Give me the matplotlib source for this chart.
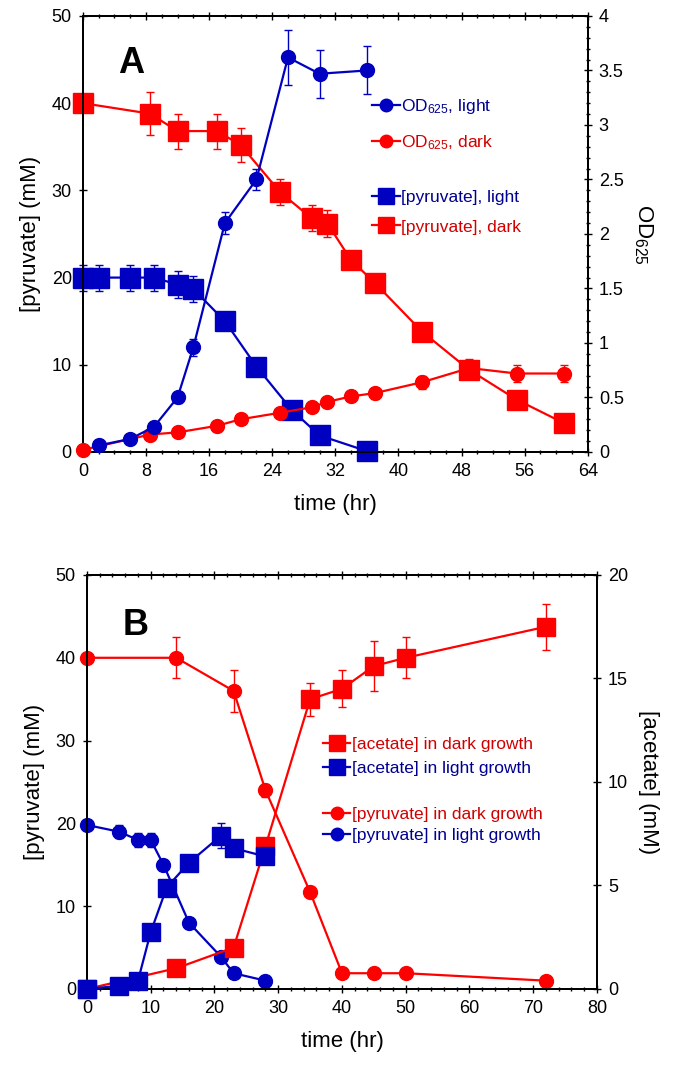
import matplotlib
matplotlib.use("Agg")
import matplotlib.pyplot as plt
from matplotlib.lines import Line2D
from matplotlib.ticker import MultipleLocator

plt.rcParams['font.family'] = ['Liberation Sans', 'DejaVu Sans']
plt.rcParams['mathtext.fontset'] = 'custom'
plt.rcParams['mathtext.rm'] = 'Liberation Sans'
plt.rcParams['mathtext.it'] = 'Liberation Sans:italic'

RED = '#ff0000'
BLUE = '#0000c0'
RED_TXT = '#d00000'
BLUE_TXT = '#000090'

# ---- panel A data ----
a_t_dark = [0, 8.5, 12, 17, 20, 25, 29, 31, 34, 37, 43, 49, 55, 61]
a_pyr_dark = [40, 38.8, 36.8, 36.8, 35.2, 29.8, 26.8, 26.2, 22.0, 19.4, 13.8, 9.4, 6.0, 3.3]
a_pyr_dark_err = [0, 2.5, 2.0, 2.0, 2.0, 1.5, 1.5, 1.5, 1.0, 1.0, 0.8, 0.8, 0.8, 0]
a_od_dark = [0.02, 0.16, 0.18, 0.24, 0.30, 0.36, 0.41, 0.46, 0.51, 0.54, 0.64, 0.77, 0.72, 0.72]
a_od_dark_err = [0, 0.02, 0.02, 0.02, 0.03, 0.03, 0.04, 0.04, 0.04, 0.05, 0.06, 0.08, 0.08, 0.08]

a_t_pyr_light = [0, 2, 6, 9, 12, 14, 18, 22, 26.5, 30, 36]
a_pyr_light = [20, 20, 20, 20, 19.2, 18.7, 15.0, 9.8, 4.8, 1.9, 0.1]
a_pyr_light_err = [1.5, 1.5, 1.5, 1.5, 1.5, 1.5, 0.8, 0.5, 0.4, 0.3, 0.3]

a_t_od_light = [2, 6, 9, 12, 14, 18, 22, 26, 30, 36]
a_od_light = [0.06, 0.12, 0.23, 0.50, 0.96, 2.10, 2.50, 3.62, 3.47, 3.50]
a_od_light_err = [0.02, 0.02, 0.03, 0.05, 0.08, 0.1, 0.1, 0.25, 0.22, 0.22]

# ---- panel B data ----
b_t_dark = [0, 14, 23, 28, 35, 40, 45, 50, 72]
b_pyr_dark = [40, 40, 36, 24, 11.7, 1.9, 1.9, 1.9, 1.0]
b_pyr_dark_err = [0, 2.5, 2.5, 0.8, 0.5, 0.3, 0.3, 0.3, 0.3]
b_ace_dark = [0, 1.0, 2.0, 6.9, 14.0, 14.5, 15.6, 16.0, 17.5]
b_ace_dark_err = [0, 0.1, 0.2, 0.3, 0.8, 0.9, 1.2, 1.0, 1.1]

b_t_light = [0, 5, 8, 10, 12.5, 16, 21, 23, 28]
b_ace_light = [0, 0.15, 0.4, 2.75, 4.9, 6.1, 7.4, 6.8, 6.4]
b_ace_light_err = [0, 0.1, 0.1, 0.2, 0.3, 0.3, 0.6, 0.3, 0.3]
b_t_pyr_light = [0, 5, 8, 10, 12, 16, 21, 23, 28]
b_pyr_light = [19.8, 19.0, 18.0, 18.0, 15.0, 8.0, 3.9, 1.9, 1.0]
b_pyr_light_err = [0, 0.8, 0.8, 0.8, 0.6, 0.5, 0.4, 0.3, 0.2]


def series(ax, x, y, err, color, marker, ms):
    ax.errorbar(x, y, yerr=err, color=color, marker=marker, ms=ms, lw=1.6,
                elinewidth=1.0, capsize=3, capthick=1.0, mec=color, mfc=color,
                clip_on=False, zorder=3)


def style(ax, ax2):
    for a in (ax, ax2):
        a.tick_params(which='both', direction='inout', labelsize=13, pad=5)
        a.tick_params(which='major', length=6, width=1)
        a.tick_params(which='minor', length=3, width=1)
        for s in a.spines.values():
            s.set_linewidth(1.4)
    ax.tick_params(axis='x', which='both', top=True)
    ax.tick_params(axis='y', which='both', right=False)


fig = plt.figure(figsize=(6.85, 10.65), dpi=100)

# ---------------- panel A ----------------
axA = fig.add_axes([0.121, 0.5756, 0.737, 0.4094])
axA2 = axA.twinx()
series(axA, a_t_dark, a_pyr_dark, a_pyr_dark_err, RED, 's', 14)
series(axA, a_t_pyr_light, a_pyr_light, a_pyr_light_err, BLUE, 's', 14)
series(axA2, a_t_dark, a_od_dark, a_od_dark_err, RED, 'o', 10)
series(axA2, a_t_od_light, a_od_light, a_od_light_err, BLUE, 'o', 10)
axA.set_xlim(0, 64)
axA.set_ylim(0, 50)
axA2.set_ylim(0, 4)
axA.xaxis.set_major_locator(MultipleLocator(8))
axA.xaxis.set_minor_locator(MultipleLocator(2))
axA.yaxis.set_major_locator(MultipleLocator(10))
axA2.set_yticks([0, 0.5, 1, 1.5, 2, 2.5, 3, 3.5, 4])
axA2.set_yticklabels(['0', '0.5', '1', '1.5', '2', '2.5', '3', '3.5', '4'])
axA2.yaxis.set_minor_locator(MultipleLocator(0.1))
style(axA, axA2)
axA.set_xlabel('time (hr)', fontsize=16, labelpad=10)
axA.set_ylabel('[pyruvate] (mM)', fontsize=16, labelpad=8)
axA2.set_ylabel(r'OD$_{625}$', fontsize=16, rotation=270, labelpad=22)
axA.text(0.07, 0.93, 'A', transform=axA.transAxes, fontsize=26,
         fontweight='bold', va='top')

legA1 = [Line2D([], [], color=BLUE, marker='o', ms=9, lw=1.6),
         Line2D([], [], color=RED, marker='o', ms=9, lw=1.6)]
legA2 = [Line2D([], [], color=BLUE, marker='s', ms=11, lw=1.6),
         Line2D([], [], color=RED, marker='s', ms=11, lw=1.6)]
l1 = axA2.legend(legA1, [r'OD$_{625}$, light', r'OD$_{625}$, dark'],
                 loc='upper left', bbox_to_anchor=(0.555, 0.835), frameon=False,
                 fontsize=12.5, handlelength=1.6, handletextpad=0.1,
                 labelcolor=[BLUE_TXT, RED_TXT], borderpad=0, labelspacing=1.0)
axA2.add_artist(l1)
axA2.legend(legA2, ['[pyruvate], light', '[pyruvate], dark'],
            loc='upper left', bbox_to_anchor=(0.555, 0.62), frameon=False,
            fontsize=12.5, handlelength=1.6, handletextpad=0.1,
            labelcolor=[BLUE_TXT, RED_TXT], borderpad=0, labelspacing=0.8)

# ---------------- panel B ----------------
axB = fig.add_axes([0.127, 0.0714, 0.7445, 0.3887])
axB2 = axB.twinx()
series(axB, b_t_dark, b_pyr_dark, b_pyr_dark_err, RED, 'o', 10)
series(axB2, b_t_dark, b_ace_dark, b_ace_dark_err, RED, 's', 13)
series(axB2, b_t_light, b_ace_light, b_ace_light_err, BLUE, 's', 13)
series(axB, b_t_pyr_light, b_pyr_light, b_pyr_light_err, BLUE, 'o', 10)
axB.set_xlim(0, 80)
axB.set_ylim(0, 50)
axB2.set_ylim(0, 20)
axB.xaxis.set_major_locator(MultipleLocator(10))
axB.xaxis.set_minor_locator(MultipleLocator(2))
axB.yaxis.set_major_locator(MultipleLocator(10))
axB2.yaxis.set_major_locator(MultipleLocator(5))
style(axB, axB2)
axB.set_xlabel('time (hr)', fontsize=16, labelpad=10)
axB.set_ylabel('[pyruvate] (mM)', fontsize=16, labelpad=8)
axB2.set_ylabel('[acetate] (mM)', fontsize=16, rotation=270, labelpad=22)
axB.text(0.07, 0.92, 'B', transform=axB.transAxes, fontsize=26,
         fontweight='bold', va='top')

legB = [Line2D([], [], color=RED, marker='s', ms=11, lw=1.6),
        Line2D([], [], color=BLUE, marker='s', ms=11, lw=1.6)]
legB2 = [Line2D([], [], color=RED, marker='o', ms=9, lw=1.6),
         Line2D([], [], color=BLUE, marker='o', ms=9, lw=1.6)]
lb = axB2.legend(legB, ['[acetate] in dark growth', '[acetate] in light growth'],
                 loc='upper left', bbox_to_anchor=(0.445, 0.63), frameon=False,
                 fontsize=12.5, handlelength=1.6, handletextpad=0.1,
                 labelcolor=[RED_TXT, BLUE_TXT], borderpad=0, labelspacing=0.5)
axB2.add_artist(lb)
axB2.legend(legB2, ['[pyruvate] in dark growth', '[pyruvate] in light growth'],
            loc='upper left', bbox_to_anchor=(0.445, 0.46), frameon=False,
            fontsize=12.5, handlelength=1.6, handletextpad=0.1,
            labelcolor=[RED_TXT, BLUE_TXT], borderpad=0, labelspacing=0.3)

fig.savefig('out.png', dpi=100)
